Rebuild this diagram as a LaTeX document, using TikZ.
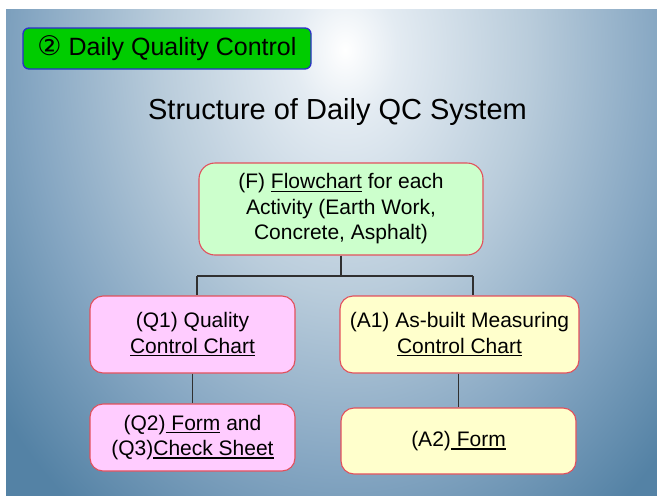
\documentclass[tikz,border=0pt]{standalone}
\usepackage{fontspec}
\setmainfont{Liberation Sans}
\newfontfamily\symfont{DejaVu Sans}
\usetikzlibrary{positioning}

% underline with a fixed depth and thickness
\newcommand\ulx[1]{\setbox0\hbox{#1}\rlap{\rule[-3.2pt]{\wd0}{1.5pt}}\box0\relax}

\definecolor{bgA}{HTML}{FFFFFF}
\definecolor{bgB}{HTML}{E3EBF2}
\definecolor{bgC}{HTML}{B9CCDB}
\definecolor{bgD}{HTML}{85A6C2}
\definecolor{bgE}{HTML}{5482A5}
\definecolor{boxline}{HTML}{E2505C}
\definecolor{fgreen}{HTML}{CCFFCC}
\definecolor{fpink}{HTML}{FFCCFF}
\definecolor{fyellow}{HTML}{FFFFCC}
\definecolor{hdrgreen}{HTML}{00CC00}
\definecolor{hdrblue}{HTML}{2A30C8}
\definecolor{linkgray}{HTML}{303030}

% the inner 25bp radius of the shading covers the shaded path
\pgfdeclareradialshading{slidebg}{\pgfpoint{0bp}{0bp}}{%
  color(0bp)=(bgA); color(3bp)=(bgB); color(10.5bp)=(bgC);
  color(18bp)=(bgD); color(25bp)=(bgE); color(50bp)=(bgE)}

\tikzset{
  qcbox/.style={draw=boxline, line width=1.1pt, rounded corners=13pt,
    align=center, inner sep=2pt,
    font=\fontsize{21}{25.5}\selectfont},
  link/.style={draw=linkgray, line width=1.2pt},
}

\begin{document}
\begin{tikzpicture}[x=1pt,y=-1pt]
  \useasboundingbox (0,0) rectangle (657,496);
  \fill[white] (0,0) rectangle (657,496);
  \begin{scope}
    \clip (6,9) rectangle (657,496);
    \fill[bgE] (6,9) rectangle (657,496);
    \shade[shading=slidebg] (345,50) ellipse [x radius=440, y radius=580];
  \end{scope}

  % section header
  \node[draw=hdrblue, line width=1.3pt, fill=hdrgreen, rounded corners=6pt,
        minimum width=288pt, minimum height=41pt, inner sep=0pt,
        font=\fontsize{25}{30}\selectfont] (hdr) at (167,48.5)
        {{\symfont\fontsize{27}{30}\selectfont ②} Daily Quality Control};

  % title
  \node[font=\fontsize{29}{34}\selectfont, inner sep=0pt] (title) at (337.5,112)
        {Structure of Daily QC System};

  % boxes
  \node[qcbox, fill=fgreen, minimum width=284pt, minimum height=92pt,
        rounded corners=16pt] (F) at (341,209)
        {(F) \ulx{Flowchart} for each\\Activity (Earth Work,\\Concrete, Asphalt)};
  \node[qcbox, fill=fpink, minimum width=205pt, minimum height=77pt] (Q1) at (192.5,334.5)
        {(Q1) Quality\\\ulx{Control Chart}};
  \node[qcbox, fill=fyellow, minimum width=239pt, minimum height=77pt] (A1) at (459.5,334.5)
        {(A1) As-built Measuring\\\ulx{Control Chart}};
  \node[qcbox, fill=fpink, minimum width=205pt, minimum height=67pt] (Q2) at (192.5,437.5)
        {(Q2)\ulx{\ Form} and\\(Q3)\ulx{Check Sheet}};
  \node[qcbox, fill=fyellow, minimum width=235pt, minimum height=66pt] (A2) at (458.5,441)
        {(A2)\ulx{\ Form}};

  % connectors
  \coordinate (jl) at (197,276);
  \coordinate (jr) at (473,276);
  \draw[link] (F.south) -- (F.south |- jl);
  \draw[link] (jl) -- (jr);
  \draw[link] (jl) -- (jl |- Q1.north);
  \draw[link] (jr) -- (jr |- A1.north);
  \draw[link] (Q1.south) -- (Q2.north);
  \draw[link] (A2.north |- A1.south) -- (A2.north);
\end{tikzpicture}
\end{document}
